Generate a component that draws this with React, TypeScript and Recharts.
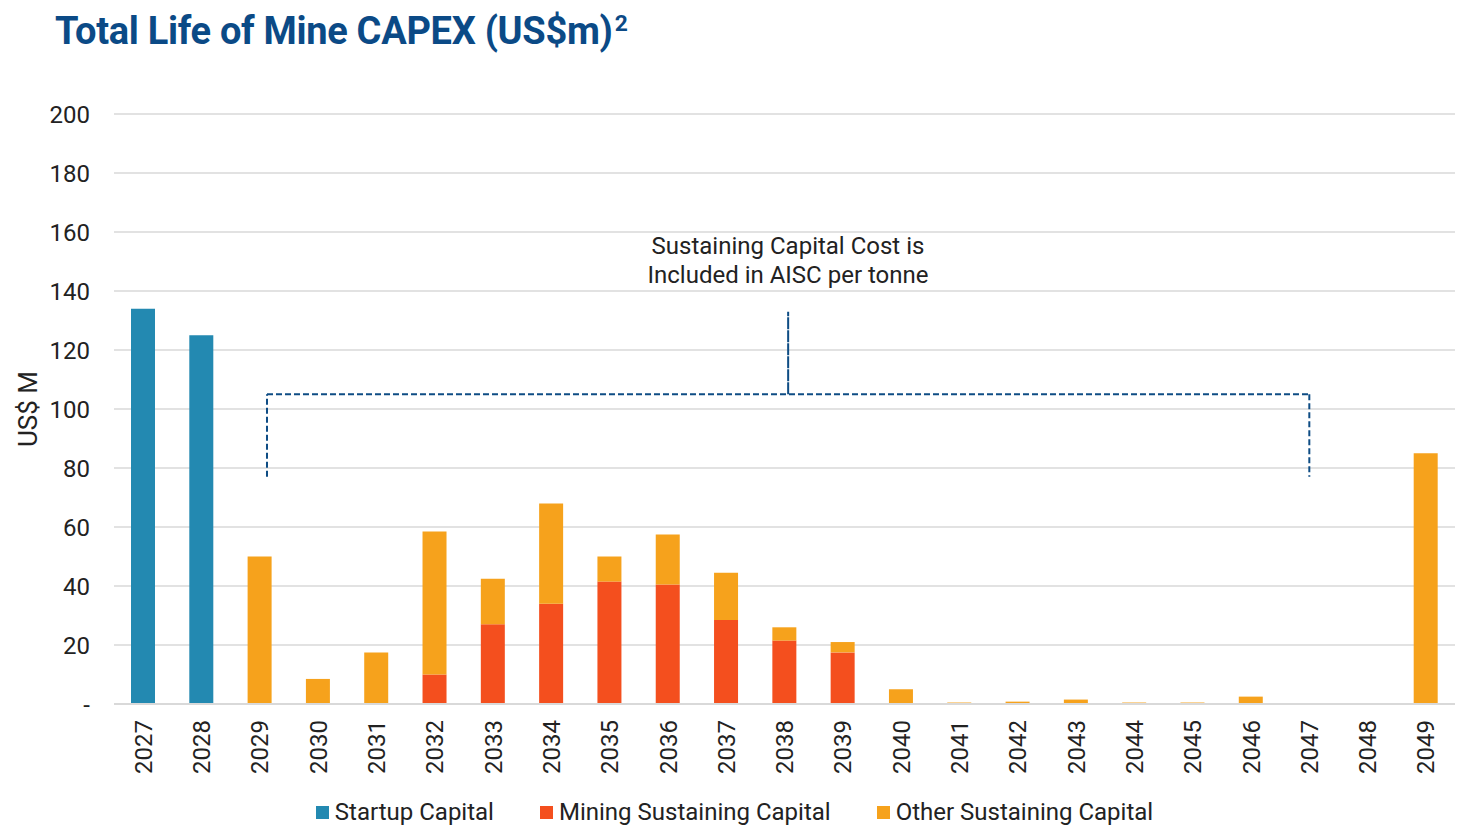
import { BarChart, Bar, XAxis, YAxis, CartesianGrid, Legend, ReferenceLine } from "recharts";

const years = ["2027", "2028", "2029", "2030", "2031", "2032", "2033", "2034", "2035", "2036", "2037", "2038", "2039", "2040", "2041", "2042", "2043", "2044", "2045", "2046", "2047", "2048", "2049"];
const startup = [134, 125, 0, 0, 0, 0, 0, 0, 0, 0, 0, 0, 0, 0, 0, 0, 0, 0, 0, 0, 0, 0, 0];
const mining = [0, 0, 0, 0, 0, 10, 27, 34, 41.5, 40.5, 28.5, 21.5, 17.5, 0, 0, 0, 0, 0, 0, 0, 0, 0, 0];
const other = [0, 0, 50, 8.5, 17.5, 48.5, 15.5, 34, 8.5, 17, 16, 4.5, 3.5, 5, 0.5, 0.8, 1.5, 0.5, 0.5, 2.5, 0, 0, 85];
const yTicks = [0, 20, 40, 60, 80, 100, 120, 140, 160, 180, 200];

// bracket over the sustaining years; x on the hidden 0..22 axis, y in US$m
const bracketX = { left: 2.51, mid: 11.06, right: 19.61 };
const bracketY = { foot: 77, bar: 105, top: 133 };

const colors = { startup: "#2389B1", mining: "#F44F1E", other: "#F6A21C", bracket: "#0E4C84", grid: "#D9D9D9", text: "#222222" };

const data = years.map((year, i) => ({ year, startup: startup[i], mining: mining[i], other: other[i] }));

const legendItems = [
  { label: "Startup Capital", color: colors.startup },
  { label: "Mining Sustaining Capital", color: colors.mining },
  { label: "Other Sustaining Capital", color: colors.other },
];

const XTick = ({ x, y, payload }: any) => (
  <text x={x} y={y} transform={`rotate(-90 ${x} ${y})`} textAnchor="end" dy="0.36em" fontSize={24} fill={colors.text}>
    {payload.value}
  </text>
);

const LegendBox = () => (
  <div style={{ height: 48, display: "flex", justifyContent: "center", alignItems: "center", gap: 46, fontSize: 24, color: colors.text, paddingLeft: 14 }}>
    {legendItems.map((it) => (
      <div key={it.label} style={{ display: "flex", alignItems: "center", gap: 6 }}>
        <span style={{ display: "inline-block", width: 13, height: 13, background: it.color }} />
        <span>{it.label}</span>
      </div>
    ))}
  </div>
);

const dash = { stroke: colors.bracket, strokeWidth: 2, strokeDasharray: "6 3", ifOverflow: "visible" as const, xAxisId: "n" };

export default function App() {
  return (
    <div style={{ position: "absolute", left: 0, top: 0, width: 1460, height: 836, background: "#fff", fontFamily: "Roboto, sans-serif" }}>
      <div style={{ position: "absolute", left: 55, top: 9, fontSize: 38, fontWeight: 700, color: "#0B4A86", letterSpacing: -0.3, whiteSpace: "nowrap" }}>
        Total Life of Mine CAPEX (US$m)<sup style={{ fontSize: "0.6em", position: "relative", top: "0.05em", marginLeft: 2 }}>2</sup>
      </div>
      <div style={{ position: "absolute", left: 588, top: 232, width: 400, textAlign: "center", fontSize: 24, lineHeight: "29px", color: colors.text }}>
        Sustaining Capital Cost is
        <br />
        Included in AISC per tonne
      </div>
      <div style={{ position: "absolute", left: 28, top: 409, transform: "translate(-50%, -50%) rotate(-90deg)", fontSize: 26, color: colors.text, whiteSpace: "nowrap" }}>
        US$ M
      </div>
      <BarChart width={1460} height={836} data={data} margin={{ top: 114, right: 5, left: 0, bottom: 0 }} barSize={24}>
        <CartesianGrid vertical={false} stroke={colors.grid} strokeWidth={1.5} />
        <XAxis dataKey="year" interval={0} height={84} tickLine={false} tickSize={0} tickMargin={16} tick={<XTick />} axisLine={{ stroke: colors.grid, strokeWidth: 2 }} />
        <XAxis xAxisId="n" type="number" domain={[0, years.length - 1]} allowDataOverflow hide />
        <YAxis
          width={114}
          domain={[0, 200]}
          ticks={yTicks}
          interval={0}
          axisLine={false}
          tickLine={false}
          tickSize={0}
          tickMargin={24}
          tick={{ fontSize: 24, fill: colors.text }}
          tickFormatter={(v: number) => (v === 0 ? "-" : String(v))}
        />
        <Legend verticalAlign="bottom" height={48} content={<LegendBox />} />
        <Bar dataKey="startup" stackId="a" fill={colors.startup} isAnimationActive={false} />
        <Bar dataKey="mining" stackId="a" fill={colors.mining} isAnimationActive={false} />
        <Bar dataKey="other" stackId="a" fill={colors.other} isAnimationActive={false} />
        <ReferenceLine {...dash} segment={[{ x: bracketX.left, y: bracketY.foot }, { x: bracketX.left, y: bracketY.bar }]} />
        <ReferenceLine {...dash} segment={[{ x: bracketX.left, y: bracketY.bar }, { x: bracketX.right, y: bracketY.bar }]} />
        <ReferenceLine {...dash} segment={[{ x: bracketX.right, y: bracketY.bar }, { x: bracketX.right, y: bracketY.foot }]} />
        <ReferenceLine {...dash} strokeDasharray="12 1" segment={[{ x: bracketX.mid, y: bracketY.bar }, { x: bracketX.mid, y: bracketY.top }]} />
      </BarChart>
    </div>
  );
}
